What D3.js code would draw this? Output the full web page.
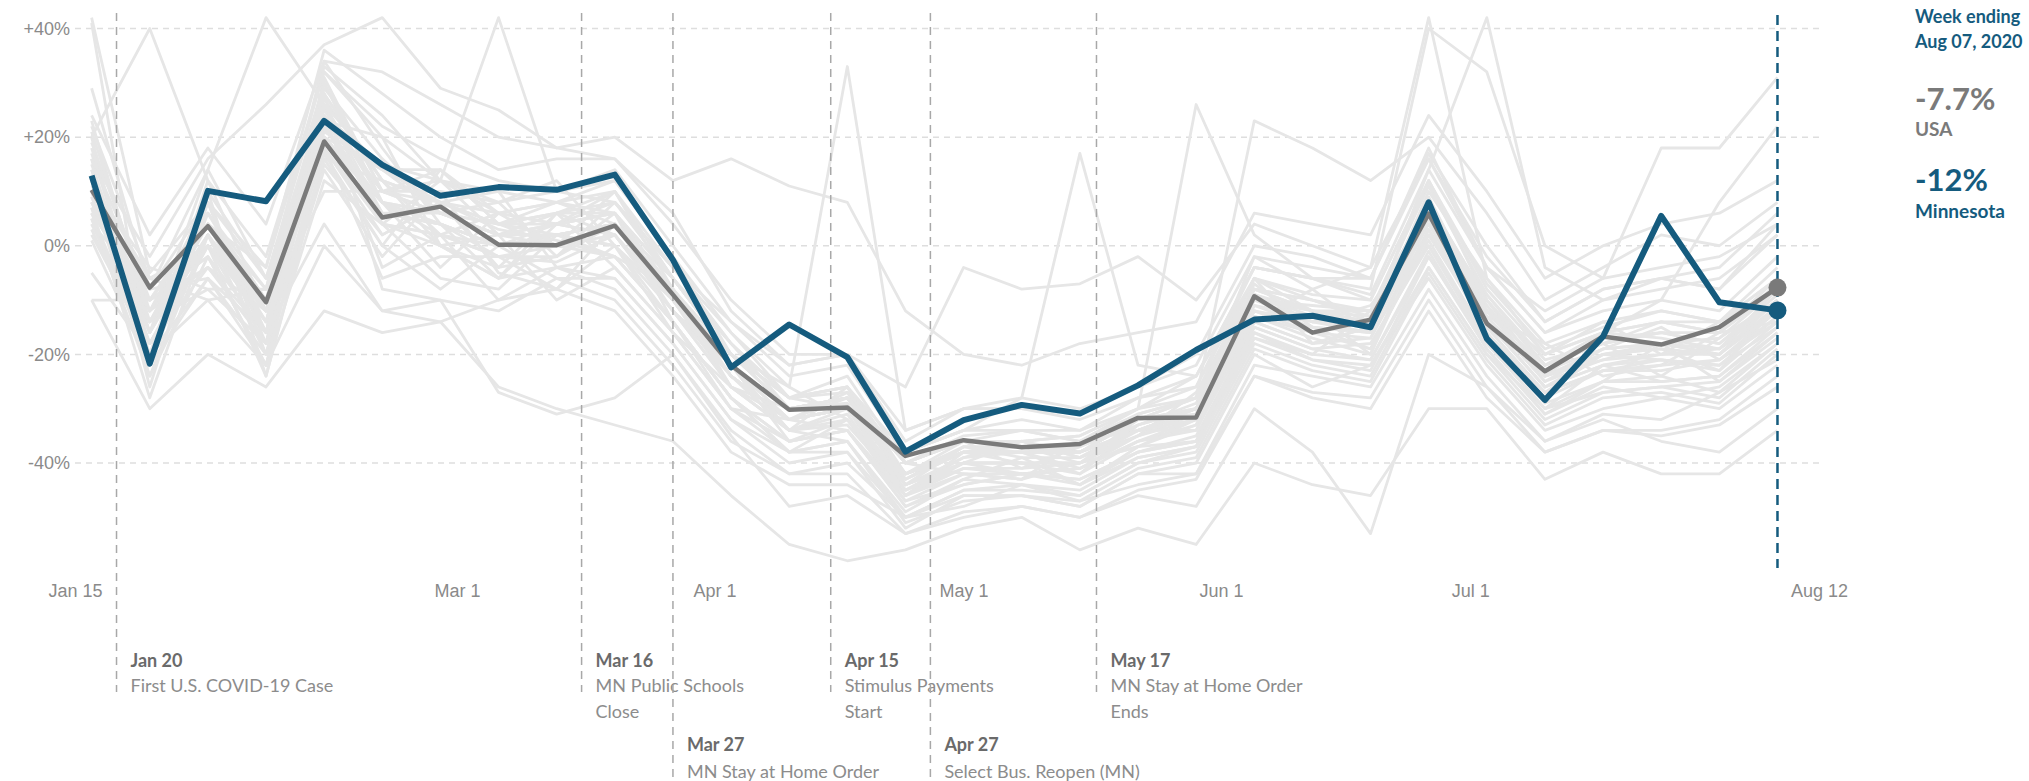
<!DOCTYPE html>
<html>
<head>
<meta charset="utf-8">
<script src="https://cdn.jsdelivr.net/npm/d3@7"></script>
<style>
  html, body { margin: 0; padding: 0; background: #fff; }
  svg { display: block; }
</style>
</head>
<body>
<script>
// weekly dates (week ending)
const weeks = ["2020-01-17","2020-01-24","2020-01-31","2020-02-07","2020-02-14","2020-02-21","2020-02-28",
  "2020-03-06","2020-03-13","2020-03-20","2020-03-27","2020-04-03","2020-04-10","2020-04-17","2020-04-24",
  "2020-05-01","2020-05-08","2020-05-15","2020-05-22","2020-05-29","2020-06-05","2020-06-12","2020-06-19",
  "2020-06-26","2020-07-03","2020-07-10","2020-07-17","2020-07-24","2020-07-31","2020-08-07"];

const usa = [10.3,-7.7,3.6,-10.4,19.2,5.2,7.2,0.2,0.1,3.7,-9.0,-22.0,-30.2,-29.8,-38.7,-35.8,-37.1,-36.5,-31.7,-31.6,
  -9.3,-16.0,-13.6,5.9,-14.3,-23.1,-16.7,-18.2,-15.0,-7.7];
const minnesota = [12.9,-21.7,10.1,8.2,23.0,14.9,9.2,10.8,10.3,13.1,-2.6,-22.4,-14.5,-20.5,-37.9,-32.1,-29.3,-30.9,-25.7,-19.2,
  -13.6,-12.9,-15.0,8.0,-17.1,-28.4,-16.7,5.5,-10.4,-11.9];

// other states (light grey background lines)
const otherStates = [
  [14,-18,2,-14,22,6,4,-2,-3,2,-12,-24,-34,-31,-46,-41,-42,-41,-36,-33,-13,-16,-17,3,-14,-26,-22,-21,-22,-13],
  [8,-12,-4,-18,18,2,8,3,1,-2,-8,-20,-30,-28,-43,-38,-38,-42,-33,-30,-10,-12,-20,6,-9,-22,-18,-24,-17,-10],
  [20,-22,6,-10,28,12,2,6,4,6,-14,-28,-36,-34,-48,-43,-39,-44,-38,-36,-16,-20,-12,0,-17,-29,-25,-18,-25,-16],
  [4,-8,-6,-20,14,-2,10,-5,-8,4,-6,-18,-28,-26,-42,-36,-41,-37,-31,-28,-6,-18,-15,10,-6,-20,-14,-20,-14,-6],
  [17,-16,10,-6,30,8,0,2,6,-4,-16,-30,-38,-36,-50,-45,-45,-46,-40,-38,-18,-22,-24,-4,-20,-32,-27,-26,-28,-19],
  [10,-24,-2,-22,20,14,6,8,-2,8,-4,-16,-26,-32,-44,-40,-36,-39,-35,-27,-8,-10,-13,12,-10,-24,-16,-17,-19,-8],
  [23,-14,4,-16,26,4,-6,-8,2,0,-10,-26,-32,-28,-40,-42,-43,-36,-34,-34,-12,-15,-19,2,-13,-18,-24,-22,-16,-14],
  [6,-20,12,-12,10,10,12,10,8,12,-2,-20,-30,-30,-46,-38,-40,-44,-37,-32,-14,-8,-16,8,-16,-27,-20,-19,-23,-11],
  [12,-6,-10,-8,34,18,4,0,-6,-6,-18,-32,-40,-38,-52,-46,-46,-48,-42,-40,-20,-26,-22,-6,-22,-34,-30,-28,-30,-22],
  [2,-18,0,-24,16,0,14,4,4,2,-12,-22,-34,-26,-44,-37,-37,-40,-32,-31,-9,-14,-11,4,-11,-25,-19,-15,-21,-12],
  [16,-26,8,-18,24,-4,2,-10,-4,-8,-20,-34,-42,-40,-50,-48,-44,-47,-44,-42,-22,-24,-26,-8,-24,-36,-31,-32,-27,-21],
  [9,-10,4,-4,32,22,16,12,10,14,0,-14,-24,-22,-38,-34,-32,-34,-30,-24,-4,-6,-9,14,-4,-16,-12,-10,-12,-2],
  [13,-20,-6,-16,20,8,-4,6,0,-2,-14,-28,-38,-32,-47,-44,-42,-43,-38,-35,-15,-19,-18,0,-18,-30,-22,-25,-24,-15],
  [7,-14,6,-10,27,12,8,-4,6,10,-6,-20,-28,-30,-45,-39,-36,-38,-34,-30,-11,-13,-14,7,-15,-23,-17,-16,-18,-9],
  [19,-10,-2,-22,12,4,12,2,-10,-4,-16,-26,-34,-36,-49,-43,-44,-45,-39,-37,-17,-21,-23,-2,-19,-31,-26,-28,-26,-18],
  [5,-24,2,-14,29,16,6,4,8,4,-8,-24,-32,-27,-43,-37,-39,-39,-33,-29,-7,-15,-16,9,-12,-24,-21,-18,-20,-11],
  [15,-16,14,-6,18,-6,-2,-2,-2,6,-10,-22,-36,-32,-46,-40,-40,-42,-36,-32,-13,-17,-20,3,-16,-28,-23,-23,-21,-13],
  [11,-4,-8,-18,31,10,10,8,12,0,-14,-30,-32,-34,-47,-42,-43,-40,-37,-36,-14,-18,-15,5,-14,-26,-20,-21,-23,-14],
  [3,-20,0,-10,23,20,0,-6,4,8,-4,-18,-30,-28,-44,-39,-38,-41,-35,-31,-10,-11,-12,11,-9,-21,-18,-14,-16,-7],
  [21,-12,8,-20,15,2,8,10,-4,-6,-18,-32,-38,-36,-51,-47,-46,-47,-41,-39,-19,-23,-25,-5,-21,-33,-28,-27,-29,-20],
  [9,-18,-4,-12,26,6,4,-6,6,2,-12,-22,-34,-33,-45,-41,-41,-40,-37,-33,-12,-16,-19,1,-17,-27,-23,-21,-22,-15],
  [16,-8,4,-14,21,14,14,4,0,10,-8,-26,-30,-29,-43,-38,-36,-39,-34,-31,-9,-12,-14,8,-11,-23,-19,-18,-17,-8],
  [1,-22,10,-24,17,0,-8,0,2,-2,-14,-28,-38,-38,-50,-45,-44,-46,-40,-37,-16,-21,-22,-4,-20,-30,-27,-26,-25,-17],
  [13,-14,-8,-8,33,24,12,8,10,12,-2,-16,-28,-24,-40,-35,-34,-36,-31,-28,-6,-9,-10,12,-7,-19,-15,-12,-14,-4],
  [7,-28,2,-20,24,4,2,-2,-8,0,-16,-30,-36,-34,-48,-44,-42,-44,-39,-37,-17,-20,-21,-1,-19,-31,-25,-24,-27,-18],
  [18,-16,6,-12,19,8,6,2,4,6,-10,-24,-32,-30,-44,-40,-40,-40,-35,-32,-11,-15,-16,5,-13,-25,-21,-20,-19,-12],
  [10,-10,-4,-16,28,-8,-10,-12,-6,-10,-22,-36,-42,-42,-53,-49,-48,-50,-45,-43,-24,-27,-28,-10,-26,-38,-34,-35,-33,-26],
  [5,-20,8,-4,36,28,20,14,16,16,4,-10,-20,-20,-36,-30,-30,-31,-26,-20,0,-2,-6,17,0,-14,-8,-6,-8,4],
  [22,-6,0,-18,16,12,0,-4,-2,4,-12,-26,-34,-32,-45,-40,-42,-41,-36,-34,-14,-18,-17,2,-15,-27,-23,-22,-21,-14],
  [12,-16,4,-12,25,10,8,4,2,4,-8,-22,-32,-30,-42,-38,-38,-38,-34,-30,-10,-14,-15,6,-13,-24,-20,-19,-20,-11],
  [42,-5,8,-16,30,10,14,6,4,10,-6,-20,-28,-27,-40,-36,-36,-35,-30,-28,-8,-12,-13,8,-10,-22,-16,-14,-16,-6],
  [41,-22,-6,-22,20,4,0,-6,-4,-2,-14,-28,-36,-34,-46,-42,-42,-43,-38,-36,-15,-19,-21,-2,-18,-30,-25,-25,-24,-16],
  [20,40,12,-2,32,20,12,6,8,6,-6,-20,-30,-28,-42,-37,-38,-37,-33,-30,-9,-13,-14,7,-12,-24,-19,-18,-19,-10],
  [29,-8,14,42,26,8,4,0,2,4,-10,-24,-32,-30,-44,-40,-40,-40,-34,-32,-12,-14,-16,4,-14,-26,-22,-20,-20,-12],
  [16,-2,16,26,37,42,29,25,18,16,6,-12,-22,-20,-34,-30,-28,-30,-26,-22,-2,-4,-6,18,-4,-16,-10,-6,-8,2],
  [12,-14,4,-10,24,15,12,42,10,8,-6,-20,-30,-28,-42,-38,-37,-38,-32,-30,-10,-14,-14,6,-12,-24,-20,-18,-20,-10],
  [24,2,18,4,34,32,26,20,18,20,12,16,11,8,-12,-20,-22,-18,-16,-14,6,4,2,24,10,-6,0,4,6,12],
  [10,-12,0,-14,22,6,4,0,4,2,-10,-20,-26,33,-34,-30,-30,-32,-28,-26,-6,-10,-12,8,-10,-22,-18,-16,-16,-8],
  [6,-8,8,-6,26,14,8,4,6,8,-4,-14,-22,-20,-26,-4,-8,-7,-2,-10,4,0,-4,16,-2,-14,-8,-6,-4,6],
  [14,-16,2,-12,20,8,6,2,0,4,-10,-24,-32,-30,-38,-34,-28,17,-22,-24,-6,-12,-14,6,-12,-22,-18,-16,-18,-10],
  [8,-10,6,-8,24,10,6,2,4,6,-8,-22,-30,-28,-40,-36,-34,-36,-30,26,2,-6,-10,12,-8,-20,-16,-14,-14,-6],
  [10,-14,2,-16,22,8,2,0,2,0,-12,-26,-34,-30,-42,-38,-38,-38,-32,-28,23,18,12,20,6,-10,-4,2,0,8],
  [4,-18,0,-14,18,4,2,-2,0,2,-10,-22,-30,-30,-42,-38,-38,-38,-32,-28,-2,-8,-4,42,-6,-18,-14,-12,-14,-8],
  [12,-12,4,-10,24,10,6,4,6,6,-6,-20,-28,-26,-40,-36,-36,-35,-30,-26,-4,-6,-8,40,32,0,-6,-4,-2,4],
  [8,-16,2,-12,22,6,6,2,2,4,-8,-22,-32,-30,-42,-38,-38,-38,-32,-30,-8,-10,-14,14,42,-4,-10,-8,-6,2],
  [6,-10,4,-8,28,12,8,6,8,10,-4,-18,-28,-26,-38,-34,-34,-34,-28,-24,-4,-6,-6,16,-4,-12,-6,18,18,31],
  [10,-14,0,-12,20,8,4,0,2,4,-10,-24,-32,-30,-42,-38,-38,-38,-34,-30,-8,-12,-12,8,-12,-20,-16,-10,8,22],
  [-10,-30,-20,-26,-12,-16,-14,-26,-30,-33,-36,-46,-55,-58,-56,-52,-50,-56,-52,-55,-40,-44,-46,-30,-30,-43,-38,-42,-42,-34],
  [-5,-20,-10,-22,0,-12,-10,-27,-31,-28,-20,-35,-48,-46,-53,-50,-48,-50,-46,-48,-30,-38,-53,-20,-26,-36,-32,-36,-38,-30],
  [-10,-10,-2,-16,4,-12,-14,-10,-8,-12,-24,-38,-44,-44,-50,-46,-46,-48,-42,-42,-24,-28,-30,-12,-28,-38,-34,-34,-32,-24]
];

const yTicks = [-40, -20, 0, 20, 40];
const xTicks = ["2020-01-15","2020-03-01","2020-04-01","2020-05-01","2020-06-01","2020-07-01","2020-08-12"];

const eventDates = ["2020-01-20","2020-03-16","2020-03-27","2020-04-15","2020-04-27","2020-05-17"];
const eventTitles = ["Jan 20","Mar 16","Mar 27","Apr 15","Apr 27","May 17"];
const eventTexts = [["First U.S. COVID-19 Case"],["MN Public Schools","Close"],["MN Stay at Home Order"],
  ["Stimulus Payments","Start"],["Select Bus. Reopen (MN)"],["MN Stay at Home Order","Ends"]];
const eventRows = [0, 0, 1, 0, 1, 0];

const lastLabel = ["Week ending", "Aug 07, 2020"];

const parse = d3.timeParse("%Y-%m-%d");
const weekDates = weeks.map(parse);

const width = 2029, height = 781;
const blue = "#155b7e", usaGrey = "#7a7a7a";
const sans = "'Liberation Sans', Arial, sans-serif";
const labelFont = "Lato, 'Open Sans', sans-serif";

const svg = d3.select("body").append("svg")
  .attr("width", width)
  .attr("height", height);

const x = d3.scaleTime()
  .domain([parse("2020-01-15"), parse("2020-08-12")])
  .range([75, 1819]);

const y = d3.scaleLinear()
  .domain([-40, 40])
  .range([463, 28.5]);

// horizontal grid
svg.append("g").selectAll("line")
  .data(yTicks)
  .join("line")
  .attr("x1", x.range()[0])
  .attr("x2", x.range()[1])
  .attr("y1", d => y(d))
  .attr("y2", d => y(d))
  .attr("stroke", "#dedede")
  .attr("stroke-width", 1.5)
  .attr("stroke-dasharray", "6,5");

// y axis labels
const yAxis = svg.append("g")
  .attr("transform", "translate(70,0)")
  .call(d3.axisLeft(y).tickValues(yTicks).tickSize(0).tickPadding(0)
    .tickFormat(d => (d > 0 ? "+" : "") + d + "%"));
yAxis.select(".domain").remove();
yAxis.attr("font-family", sans).attr("font-size", 18);
yAxis.selectAll("text").attr("fill", "#8a8a8a");

// x axis labels
const xAxis = svg.append("g")
  .attr("transform", "translate(0,591)")
  .call(d3.axisBottom(x).tickValues(xTicks.map(parse)).tickSize(0).tickPadding(0)
    .tickFormat(d3.timeFormat("%b %-d")));
xAxis.select(".domain").remove();
xAxis.attr("font-family", sans).attr("font-size", 18);
xAxis.selectAll("text").attr("fill", "#8a8a8a").attr("dy", "0.35em");

const line = d3.line()
  .x((d, i) => x(weekDates[i]))
  .y(d => y(d));

// background states
svg.append("g").selectAll("path")
  .data(otherStates)
  .join("path")
  .attr("d", line)
  .attr("fill", "none")
  .attr("stroke", "#e6e6e6")
  .attr("stroke-width", 2.8)
  .attr("stroke-linejoin", "round");

// event markers
const events = eventDates.map((d, i) => ({ date: parse(d), title: eventTitles[i], text: eventTexts[i], row: eventRows[i] }));
const ev = svg.append("g").selectAll("g")
  .data(events)
  .join("g")
  .attr("transform", d => `translate(${x(d.date)},0)`);

ev.append("line")
  .attr("y1", 13)
  .attr("y2", d => d.row ? 777 : 692)
  .attr("stroke", "#a8a8a8")
  .attr("stroke-width", 1.5)
  .attr("stroke-dasharray", "8,6");

ev.append("text")
  .attr("x", 14)
  .attr("y", d => d.row ? 745 : 661)
  .attr("dy", "0.35em")
  .attr("font-family", labelFont)
  .attr("font-size", 18)
  .attr("font-weight", 700)
  .attr("fill", "#6a6a6a")
  .text(d => d.title);

ev.each(function(d) {
  d3.select(this).selectAll("text.desc")
    .data(d.text)
    .join("text")
    .attr("class", "desc")
    .attr("x", 14)
    .attr("y", (t, j) => (d.row ? 772 : 686) + j * 26)
    .attr("dy", "0.35em")
    .attr("font-family", labelFont)
    .attr("font-size", 18)
    .attr("fill", "#8c8c8c")
    .text(t => t);
});

// current week marker
const lastDate = weekDates[weekDates.length - 1];
svg.append("line")
  .attr("x1", x(lastDate)).attr("x2", x(lastDate))
  .attr("y1", 15).attr("y2", 568)
  .attr("stroke", blue)
  .attr("stroke-width", 2.5)
  .attr("stroke-dasharray", "10,6");

// USA and Minnesota
svg.append("path")
  .datum(usa)
  .attr("d", line)
  .attr("fill", "none")
  .attr("stroke", usaGrey)
  .attr("stroke-width", 4.5)
  .attr("stroke-linejoin", "round");

svg.append("path")
  .datum(minnesota)
  .attr("d", line)
  .attr("fill", "none")
  .attr("stroke", blue)
  .attr("stroke-width", 6)
  .attr("stroke-linejoin", "round");

svg.append("circle")
  .attr("cx", x(lastDate)).attr("cy", y(usa[usa.length - 1]))
  .attr("r", 9).attr("fill", usaGrey);
svg.append("circle")
  .attr("cx", x(lastDate)).attr("cy", y(minnesota[minnesota.length - 1]))
  .attr("r", 9).attr("fill", blue);

// right side summary
const side = svg.append("g").attr("transform", "translate(1915,0)").attr("font-family", labelFont);
side.selectAll("text.wk")
  .data(lastLabel)
  .join("text")
  .attr("class", "wk")
  .attr("y", (d, i) => 17 + i * 25)
  .attr("dy", "0.35em")
  .attr("font-size", 18)
  .attr("font-weight", 700)
  .attr("fill", blue)
  .text(d => d);

side.append("text").attr("y", 99).attr("dy", "0.35em")
  .attr("font-size", 31).attr("font-weight", 700).attr("fill", usaGrey)
  .text(usa[usa.length - 1].toFixed(1) + "%");
side.append("text").attr("y", 129).attr("dy", "0.35em")
  .attr("font-size", 19).attr("font-weight", 700).attr("fill", usaGrey)
  .text("USA");
side.append("text").attr("y", 180).attr("dy", "0.35em")
  .attr("font-size", 31).attr("font-weight", 700).attr("fill", blue)
  .text(Math.round(minnesota[minnesota.length - 1]) + "%");
side.append("text").attr("y", 211).attr("dy", "0.35em")
  .attr("font-size", 19).attr("font-weight", 700).attr("fill", blue)
  .text("Minnesota");
</script>
</body>
</html>
